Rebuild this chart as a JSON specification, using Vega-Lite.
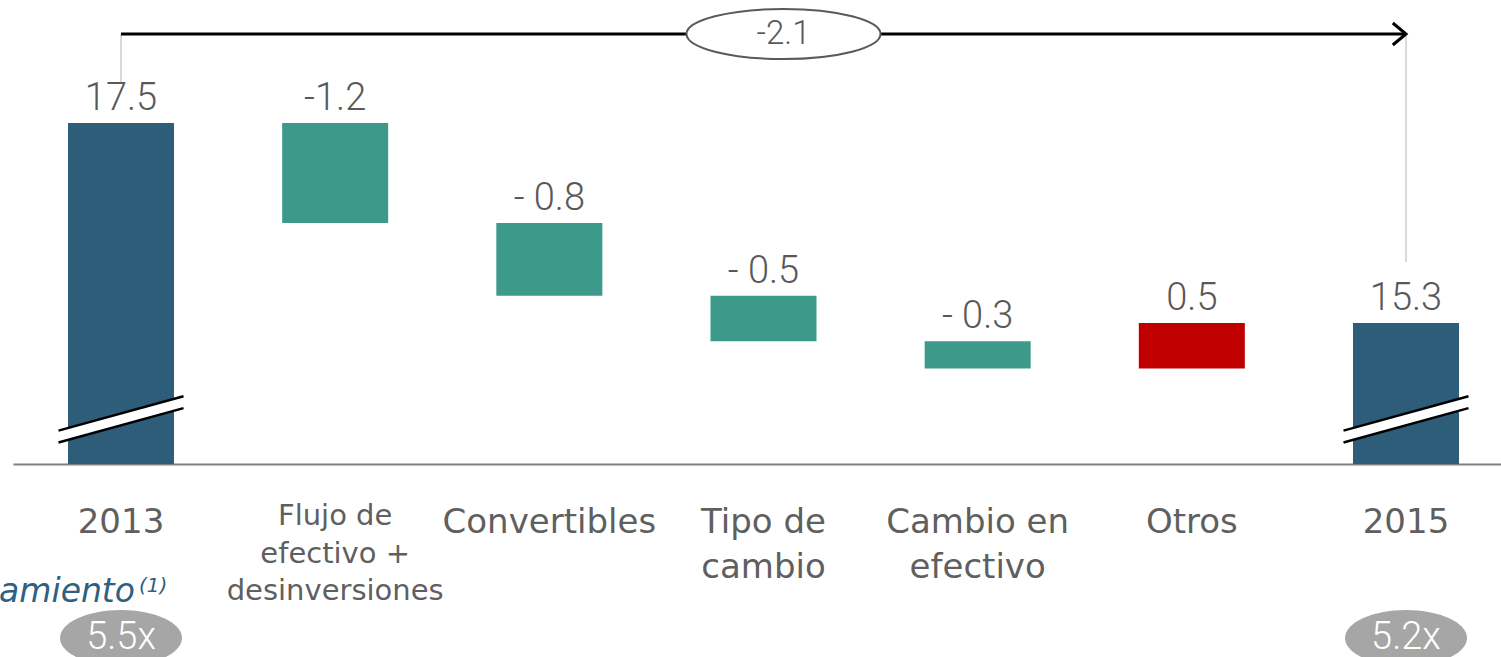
{
  "$schema": "https://vega.github.io/schema/vega-lite/v6.json",
  "width": 1501,
  "height": 464,
  "autosize": {"type": "none"},
  "padding": {"left": 0, "top": 0, "right": 0, "bottom": 193},
  "background": "white",
  "config": {"view": {"stroke": null}},
  "datasets": {
    "steps": [
      {"id": "2013", "name": "2013", "kind": "total", "start": 0, "end": 17.5, "label": "17.5", "lev": "5.5x"},
      {"id": "Flujo", "name": "Flujo de\nefectivo +\ndesinversiones", "kind": "decrease", "start": 17.5, "end": 16.4, "label": "-1.2", "lev": ""},
      {"id": "Convertibles", "name": "Convertibles", "kind": "decrease", "start": 16.4, "end": 15.6, "label": "- 0.8", "lev": ""},
      {"id": "Tipo", "name": "Tipo de\ncambio", "kind": "decrease", "start": 15.6, "end": 15.1, "label": "- 0.5", "lev": ""},
      {"id": "Cambio", "name": "Cambio en\nefectivo", "kind": "decrease", "start": 15.1, "end": 14.8, "label": "- 0.3", "lev": ""},
      {"id": "Otros", "name": "Otros", "kind": "increase", "start": 14.8, "end": 15.3, "label": "0.5", "lev": ""},
      {"id": "2015", "name": "2015", "kind": "total", "start": 0, "end": 15.3, "label": "15.3", "lev": "5.2x"}
    ],
    "change": [{"change": "-2.1"}]
  },
  "data": {"name": "steps"},
  "encoding": {
    "x": {
      "field": "id", "type": "nominal",
      "scale": {"domain": ["2013", "Flujo", "Convertibles", "Tipo", "Cambio", "Otros", "2015"], "range": [13, 1514], "paddingInner": 0.505, "paddingOuter": 0.2568}
    }
  },
  "layer": [
    {
      "mark": {"type": "bar", "clip": true},
      "encoding": {
        "x": {"field": "id", "type": "nominal", "axis": {"labels": false, "ticks": false, "title": null, "grid": false, "domainColor": "#7f7f7f", "domainWidth": 2}},
        "y": {"field": "start", "type": "quantitative", "scale": {"domain": [13.749, 18.853], "zero": false, "nice": false}, "axis": null},
        "y2": {"field": "end"},
        "color": {"field": "kind", "type": "nominal", "scale": {"domain": ["total", "decrease", "increase"], "range": ["#2E5D7A", "#3D9A8B", "#C00000"]}, "legend": null}
      }
    },
    {
      "transform": [
        {"fold": ["start", "end"], "as": ["k", "v"]},
        {"aggregate": [{"op": "max", "field": "v", "as": "top"}], "groupby": ["id", "label"]}
      ],
      "mark": {"type": "text", "font": "Roboto", "fontWeight": 300, "fontSize": 38, "color": "#595959", "baseline": "alphabetic", "dy": -13},
      "encoding": {
        "y": {"field": "top", "type": "quantitative"},
        "text": {"field": "label"}
      }
    },
    {
      "transform": [{"filter": "datum.kind == 'total'"}],
      "mark": {"type": "point", "shape": "M-1,0.18L1,-0.37L1,-0.18L-1,0.37Z", "filled": true, "fill": "white", "strokeWidth": 0, "opacity": 1, "size": 15625},
      "encoding": {"y": {"datum": 14.24, "type": "quantitative"}}
    },
    {
      "transform": [{"filter": "datum.kind == 'total'"}],
      "mark": {"type": "point", "shape": "M-1,0.18L1,-0.37M-1,0.37L1,-0.18", "filled": false, "stroke": "black", "strokeWidth": 2.5, "opacity": 1, "size": 15625},
      "encoding": {"y": {"datum": 14.24, "type": "quantitative"}}
    },
    {
      "data": {"name": "change"},
      "mark": {"type": "rule", "stroke": "#d9d9d9", "strokeWidth": 2},
      "encoding": {"x": {"datum": "2013"}, "y": {"datum": 18.479, "type": "quantitative"}, "y2": {"datum": 17.95}}
    },
    {
      "data": {"name": "change"},
      "mark": {"type": "rule", "stroke": "#d9d9d9", "strokeWidth": 2},
      "encoding": {"x": {"datum": "2015"}, "y": {"datum": 18.479, "type": "quantitative"}, "y2": {"datum": 15.97}}
    },
    {
      "data": {"name": "change"},
      "mark": {"type": "rule", "stroke": "black", "strokeWidth": 3},
      "encoding": {"x": {"datum": "2013"}, "x2": {"datum": "2015"}, "y": {"datum": 18.479, "type": "quantitative"}}
    },
    {
      "data": {"name": "change"},
      "mark": {"type": "point", "shape": "M-1.2,-1L0,0L-1.2,1", "filled": false, "stroke": "black", "strokeWidth": 3, "opacity": 1, "size": 484},
      "encoding": {"x": {"datum": "2015"}, "y": {"datum": 18.479, "type": "quantitative"}}
    },
    {
      "data": {"name": "change"},
      "mark": {"type": "point", "shape": "M-1,0C-1,-0.1423,-0.552,-0.2577,0,-0.2577C0.552,-0.2577,1,-0.1423,1,0C1,0.1423,0.552,0.2577,0,0.2577C-0.552,0.2577,-1,0.1423,-1,0Z", "filled": true, "fill": "white", "stroke": "#595959", "strokeWidth": 2, "opacity": 1, "size": 37636, "xOffset": 20},
      "encoding": {"x": {"datum": "Tipo"}, "y": {"datum": 18.479, "type": "quantitative"}}
    },
    {
      "data": {"name": "change"},
      "mark": {"type": "text", "font": "Roboto", "fontWeight": 300, "fontSize": 33, "color": "#595959", "baseline": "middle", "dx": 20},
      "encoding": {"x": {"datum": "Tipo"}, "y": {"datum": 18.479, "type": "quantitative"}, "text": {"field": "change"}}
    },
    {
      "transform": [{"filter": "datum.id == 'Flujo'"}],
      "mark": {"type": "text", "font": "DejaVu Sans", "fontSize": 29, "lineHeight": 37.5, "lineBreak": "\n", "color": "#5f5f5f", "baseline": "top"},
      "encoding": {"y": {"datum": 13.33, "type": "quantitative"}, "text": {"field": "name"}}
    },
    {
      "transform": [{"filter": "datum.id != 'Flujo'"}],
      "mark": {"type": "text", "font": "DejaVu Sans", "fontSize": 34, "lineHeight": 45, "lineBreak": "\n", "color": "#5f5f5f", "baseline": "top"},
      "encoding": {"y": {"datum": 13.29, "type": "quantitative"}, "text": {"field": "name"}}
    },
    {
      "transform": [{"filter": "datum.kind == 'total'"}],
      "mark": {"type": "point", "shape": "M-1,0C-1,-0.2534,-0.552,-0.459,0,-0.459C0.552,-0.459,1,-0.2534,1,0C1,0.2534,0.552,0.459,0,0.459C-0.552,0.459,-1,0.2534,-1,0Z", "filled": true, "fill": "#A6A6A6", "strokeWidth": 0, "opacity": 1, "size": 14884},
      "encoding": {"y": {"datum": 11.835, "type": "quantitative"}}
    },
    {
      "transform": [{"filter": "datum.kind == 'total'"}],
      "mark": {"type": "text", "font": "Roboto", "fontWeight": 300, "fontSize": 38, "color": "white", "baseline": "middle"},
      "encoding": {"y": {"datum": 11.835, "type": "quantitative"}, "text": {"field": "lev"}}
    },
    {
      "data": {"name": "change"},
      "mark": {"type": "text", "font": "DejaVu Sans", "fontStyle": "italic", "fontSize": 33, "color": "#2E6080", "align": "right", "baseline": "alphabetic", "dx": 14, "text": "Apalancamiento"},
      "encoding": {"x": {"datum": "2013"}, "y": {"datum": 12.231, "type": "quantitative"}}
    },
    {
      "data": {"name": "change"},
      "mark": {"type": "text", "font": "DejaVu Sans", "fontStyle": "italic", "fontSize": 20, "color": "#2E6080", "align": "left", "baseline": "alphabetic", "dx": 18, "dy": -10, "text": "(1)"},
      "encoding": {"x": {"datum": "2013"}, "y": {"datum": 12.231, "type": "quantitative"}}
    }
  ]
}
